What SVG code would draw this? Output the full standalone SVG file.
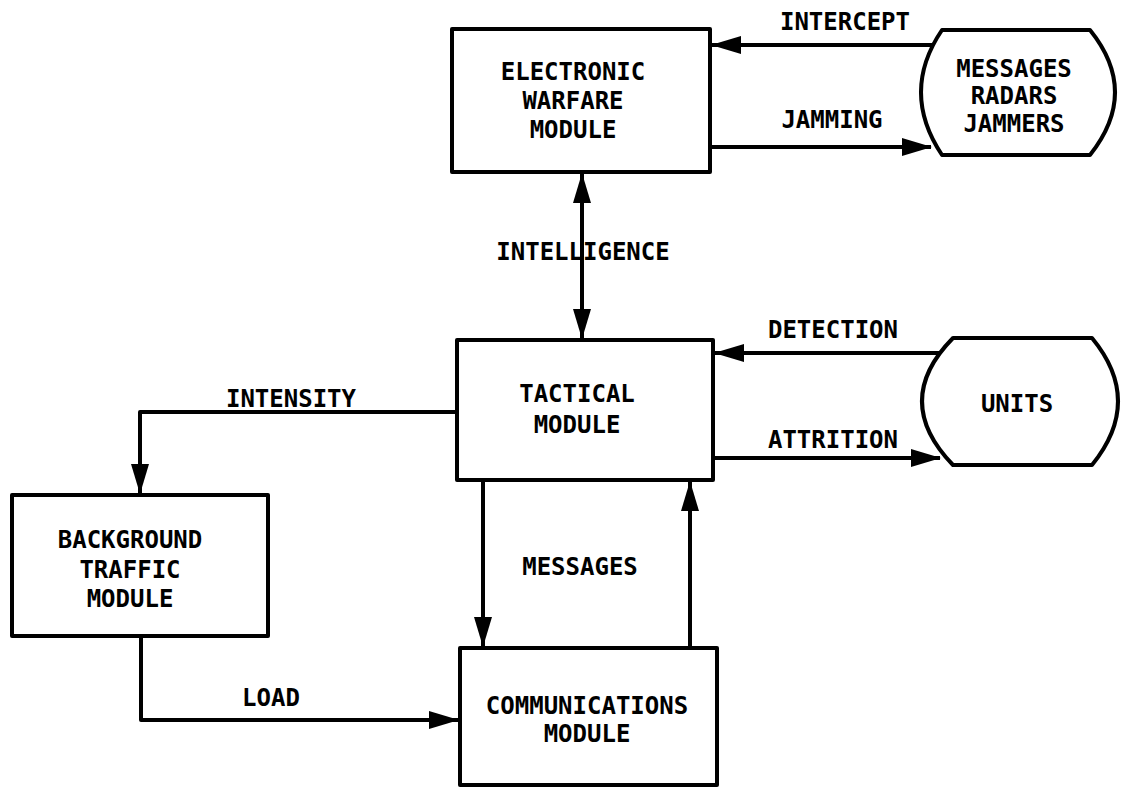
<svg xmlns="http://www.w3.org/2000/svg" width="1122" height="788" viewBox="0 0 1122 788">
<style>
.box{fill:#fff;stroke:#000;stroke-width:4;stroke-linejoin:round}
.ln{fill:none;stroke:#000;stroke-width:4;stroke-linejoin:round}
.t{font-family:"DejaVu Sans Mono","Liberation Mono",monospace;font-size:24px;font-weight:bold;fill:#000;text-anchor:middle}
</style>
<defs>
<marker id="ah" markerUnits="userSpaceOnUse" markerWidth="30" markerHeight="20" refX="29" refY="10" orient="auto-start-reverse" viewBox="0 0 30 20">
<path d="M0,1 L30,10 L0,19 Z" fill="#000"/>
</marker>
</defs>
<rect width="1122" height="788" fill="#fff"/>
<g id="connectors">
<line class="ln" x1="933" y1="45" x2="712" y2="45" marker-end="url(#ah)"/>
<line class="ln" x1="710" y1="147" x2="931" y2="147" marker-end="url(#ah)"/>
<line class="ln" x1="582" y1="174" x2="582" y2="338" marker-start="url(#ah)" marker-end="url(#ah)"/>
<line class="ln" x1="942" y1="353" x2="715" y2="353" marker-end="url(#ah)"/>
<line class="ln" x1="713" y1="458" x2="940" y2="458" marker-end="url(#ah)"/>
<path class="ln" d="M457,412 L140,412 L140,493" marker-end="url(#ah)"/>
<line class="ln" x1="483" y1="480" x2="483" y2="646" marker-end="url(#ah)"/>
<line class="ln" x1="690" y1="648" x2="690" y2="482" marker-end="url(#ah)"/>
<path class="ln" d="M141,636 L141,720 L458,720" marker-end="url(#ah)"/>
</g>
<g id="ew">
<rect class="box" x="452" y="29" width="258" height="143"/>
<text class="t" x="573" y="80">ELECTRONIC</text>
<text class="t" x="573" y="109">WARFARE</text>
<text class="t" x="573" y="138">MODULE</text>
</g>
<g id="mrj">
<path class="box" d="M942,30 L1090,30 Q1140,92 1090,155 L942,155 Q900,92 942,30 Z"/>
<text class="t" x="1014" y="77">MESSAGES</text>
<text class="t" x="1014" y="104">RADARS</text>
<text class="t" x="1014" y="132">JAMMERS</text>
</g>
<g id="tactical">
<rect class="box" x="457" y="340" width="256" height="140"/>
<text class="t" x="577" y="402">TACTICAL</text>
<text class="t" x="577" y="433">MODULE</text>
</g>
<g id="units">
<path class="box" d="M953,338 L1092,338 Q1144,401 1092,465 L953,465 Q891,401 953,338 Z"/>
<text class="t" x="1017" y="412">UNITS</text>
</g>
<g id="background">
<rect class="box" x="12" y="495" width="256" height="141"/>
<text class="t" x="130" y="548">BACKGROUND</text>
<text class="t" x="130" y="578">TRAFFIC</text>
<text class="t" x="130" y="607">MODULE</text>
</g>
<g id="comms">
<rect class="box" x="460" y="648" width="257" height="137"/>
<text class="t" x="587" y="714">COMMUNICATIONS</text>
<text class="t" x="587" y="742">MODULE</text>
</g>
<g id="labels">
<text class="t" x="845" y="30">INTERCEPT</text>
<text class="t" x="832" y="128">JAMMING</text>
<text class="t" x="583" y="260">INTELLIGENCE</text>
<text class="t" x="833" y="338">DETECTION</text>
<text class="t" x="833" y="448">ATTRITION</text>
<text class="t" x="291" y="407">INTENSITY</text>
<text class="t" x="580" y="575">MESSAGES</text>
<text class="t" x="271" y="706">LOAD</text>
</g>
</svg>
